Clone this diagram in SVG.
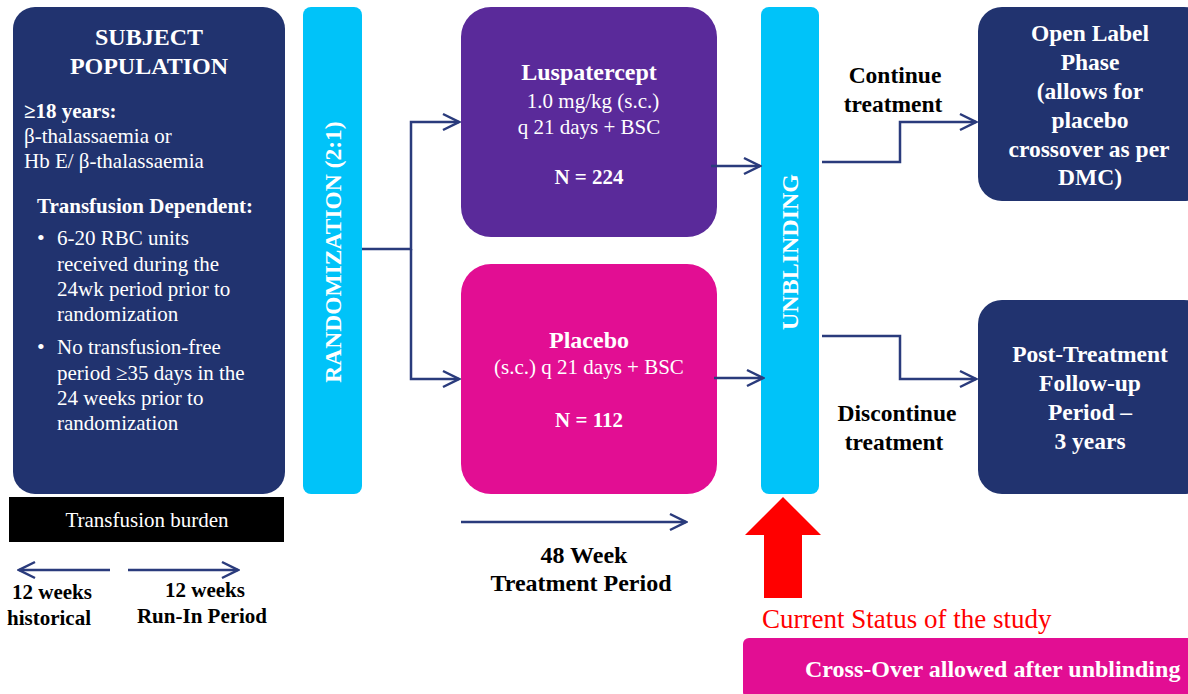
<svg xmlns="http://www.w3.org/2000/svg" width="1188" height="694" viewBox="0 0 1188 694">
<style>
text{font-family:"Liberation Serif","Times New Roman",serif;}
.w{fill:#ffffff;}
.k{fill:#000000;}
.b{font-weight:bold;}
.c{text-anchor:middle;}
.conn{fill:none;stroke:#2A3B7C;stroke-width:2.5;}
</style>
<defs>
<marker id="ah" viewBox="0 0 20 20" refX="18" refY="10" markerWidth="20" markerHeight="20" markerUnits="userSpaceOnUse" orient="auto">
<path d="M2,2 L18,10 L2,18" fill="none" stroke="#2A3B7C" stroke-width="2.5"/>
</marker>
</defs>
<rect width="1188" height="694" fill="#ffffff"/>

<g id="subject">
<rect x="13" y="7" width="272" height="487" rx="22" fill="#21336F"/>
<text class="w b c" x="149" y="45" font-size="24">SUBJECT</text>
<text class="w b c" x="149" y="74" font-size="24">POPULATION</text>
<text class="w b" x="24" y="118" font-size="21">≥18 years:</text>
<text class="w" x="24" y="143" font-size="21">β-thalassaemia or</text>
<text class="w" x="24" y="168" font-size="21">Hb E/ β-thalassaemia</text>
<text class="w b" x="37" y="213" font-size="21">Transfusion Dependent:</text>
<text class="w" x="37" y="245" font-size="22">•</text>
<text class="w" x="57" y="245" font-size="21">6-20 RBC units</text>
<text class="w" x="57" y="271" font-size="21">received during the</text>
<text class="w" x="57" y="296" font-size="21">24wk period prior to</text>
<text class="w" x="57" y="321" font-size="21">randomization</text>
<text class="w" x="37" y="354" font-size="22">•</text>
<text class="w" x="57" y="354" font-size="21">No transfusion-free</text>
<text class="w" x="57" y="380" font-size="21">period ≥35 days in the</text>
<text class="w" x="57" y="405" font-size="21">24 weeks prior to</text>
<text class="w" x="57" y="430" font-size="21">randomization</text>
</g>

<g id="burden">
<rect x="9" y="497" width="275" height="45" fill="#000000"/>
<text class="w c" x="147" y="527" font-size="21">Transfusion burden</text>
</g>

<g id="historical">
<text class="k b c" x="52" y="599" font-size="21">12 weeks</text>
<text class="k b c" x="49" y="625" font-size="21">historical</text>
</g>
<g id="runin">
<text class="k b c" x="205" y="597" font-size="21">12 weeks</text>
<text class="k b c" x="202" y="623" font-size="21">Run-In Period</text>
</g>

<g id="randomization">
<rect x="303" y="7" width="59" height="487" rx="8" fill="#00C3F9"/>
<text class="w b c" transform="translate(341,252) rotate(-90)" font-size="23.5">RANDOMIZATION (2:1)</text>
</g>

<g id="luspatercept">
<rect x="461" y="7" width="256" height="230" rx="30" fill="#5A2A9A"/>
<text class="w b c" x="589" y="80" font-size="24">Luspatercept</text>
<text class="w c" x="593" y="108" font-size="21">1.0 mg/kg (s.c.)</text>
<text class="w c" x="589" y="134" font-size="21">q 21 days + BSC</text>
<text class="w b c" x="589" y="184" font-size="21">N = 224</text>
</g>

<g id="placebo">
<rect x="461" y="264" width="256" height="230" rx="30" fill="#E20E93"/>
<text class="w b c" x="589" y="348" font-size="24">Placebo</text>
<text class="w c" x="589" y="374" font-size="21">(s.c.) q 21 days + BSC</text>
<text class="w b c" x="589" y="427" font-size="21">N = 112</text>
</g>

<g id="unblinding">
<rect x="761" y="7" width="58" height="487" rx="8" fill="#00C3F9"/>
<text class="w b c" transform="translate(798,252) rotate(-90)" font-size="24">UNBLINDING</text>
</g>

<g id="openlabel">
<rect x="978" y="7" width="230" height="194" rx="24" fill="#21336F"/>
<text class="w b c" x="1090" y="41" font-size="23.5">Open Label</text>
<text class="w b c" x="1090" y="70" font-size="23.5">Phase</text>
<text class="w b c" x="1090" y="99" font-size="23.5">(allows for</text>
<text class="w b c" x="1090" y="128" font-size="23.5">placebo</text>
<text class="w b c" x="1089" y="157" font-size="23.5">crossover as per</text>
<text class="w b c" x="1090" y="185" font-size="23.5">DMC)</text>
</g>

<g id="posttreatment">
<rect x="978" y="300" width="230" height="194" rx="24" fill="#21336F"/>
<text class="w b c" x="1090" y="362" font-size="23.5">Post-Treatment</text>
<text class="w b c" x="1090" y="391" font-size="23.5">Follow-up</text>
<text class="w b c" x="1090" y="420" font-size="23.5">Period –</text>
<text class="w b c" x="1090" y="449" font-size="23.5">3 years</text>
</g>

<g id="labels">
<text class="k b c" x="895" y="83" font-size="23.5">Continue</text>
<text class="k b c" x="893" y="112" font-size="23.5">treatment</text>
<text class="k b c" x="897" y="421" font-size="23.5">Discontinue</text>
<text class="k b c" x="894" y="450" font-size="23.5">treatment</text>
<text class="k b c" x="584" y="563" font-size="24">48 Week</text>
<text class="k b c" x="581" y="591" font-size="24">Treatment Period</text>
</g>

<g id="status">
<polygon points="783,497 821,535 802,535 802,598 764,598 764,535 745,535" fill="#FF0000"/>
<text x="762" y="628" font-size="27" fill="#FF0000">Current Status of the study</text>
</g>

<g id="crossover">
<rect x="743" y="638" width="465" height="60" rx="6" fill="#E20E93"/>
<text class="w b" x="805" y="677" font-size="24">Cross-Over allowed after unblinding</text>
</g>

<g id="connectors">
<path class="conn" d="M362,249 H411 V122 H459" marker-end="url(#ah)"/>
<path class="conn" d="M411,249 V379 H459" marker-end="url(#ah)"/>
<path class="conn" d="M711,166 H760" marker-end="url(#ah)"/>
<path class="conn" d="M714,378 H763" marker-end="url(#ah)"/>
<path class="conn" d="M822,162 H900 V122 H976" marker-end="url(#ah)"/>
<path class="conn" d="M822,336 H900 V379 H976" marker-end="url(#ah)"/>
<path class="conn" d="M461,522 H686" marker-end="url(#ah)"/>
<path class="conn" d="M110,570 H19" marker-end="url(#ah)"/>
<path class="conn" d="M128,570 H238" marker-end="url(#ah)"/>
</g>
</svg>
